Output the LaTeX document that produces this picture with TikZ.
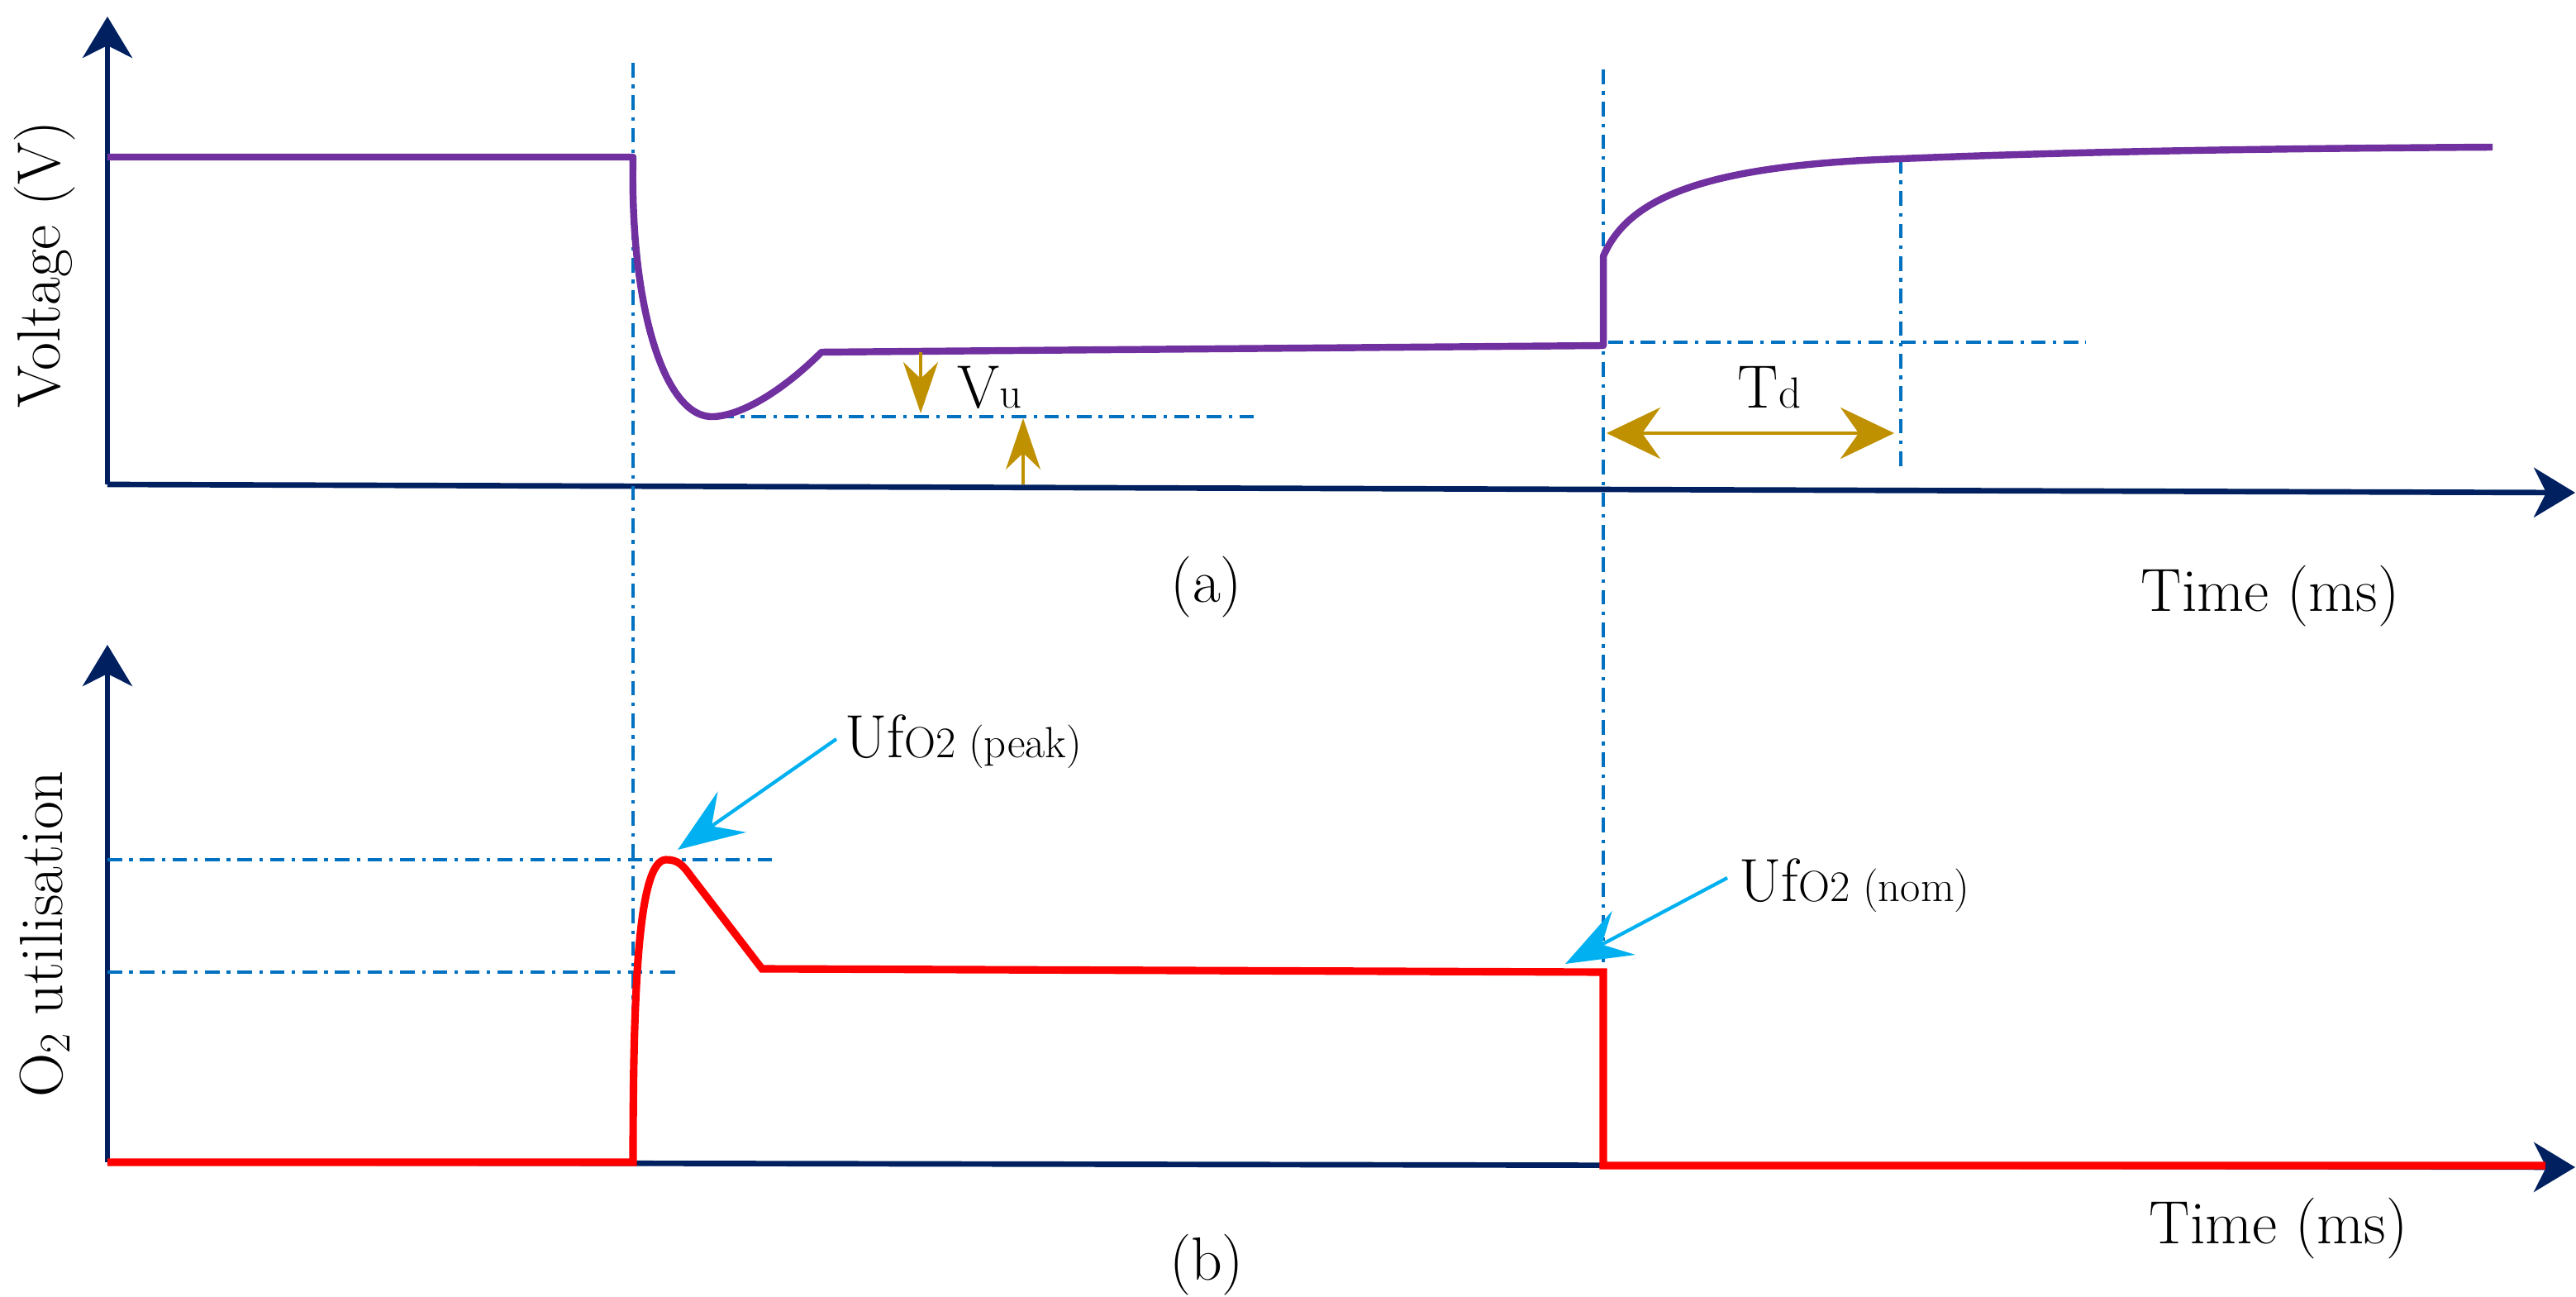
\documentclass[tikz,border=0pt]{standalone}
\usetikzlibrary{arrows.meta}
\definecolor{axisc}{HTML}{002060}
\definecolor{voltc}{HTML}{7030A0}
\definecolor{guidec}{HTML}{0070C0}
\definecolor{goldc}{HTML}{BF9000}
\definecolor{cyanc}{HTML}{00B0F0}
\tikzset{
  axisline/.style={draw=axisc, line width=1.9pt, -{Stealth[length=0.5cm,width=0.6cm,inset=0.15cm]}},
  voltline/.style={draw=voltc, line width=2.4pt, line join=round},
  utilline/.style={draw=red, line width=2.6pt, line join=miter},
  guide/.style={draw=guidec, line width=1pt, dash pattern=on 5pt off 2.5pt on 1.2pt off 2.5pt},
  goldarrow/.style={draw=goldc, line width=1pt, -{Stealth[length=0.62cm,width=0.42cm,inset=0.2cm]}},
  goldtwo/.style={draw=goldc, line width=1.3pt, {Stealth[length=0.65cm,width=0.62cm,inset=0.22cm]}-{Stealth[length=0.65cm,width=0.62cm,inset=0.22cm]}},
  callout/.style={draw=cyanc, line width=1.2pt, -{Stealth[length=0.8cm,width=0.6cm,inset=0.3cm]}},
  lbl/.style={inner sep=0pt, font=\fontsize{21}{25}\selectfont},
}
\newcommand{\smallsz}{\fontsize{15}{17}\selectfont}
\begin{document}
\begin{tikzpicture}[x=0.02cm,y=-0.02cm]
\useasboundingbox (0,0) rectangle (1558.5,784.5);

% ---------- panel (a) ----------
\coordinate (a0) at (65,293);
\coordinate (aytip) at (65,10);
\coordinate (axtip) at (1558,298);
\draw[axisline] (a0) -- (aytip);
\draw[axisline] (a0) -- (axtip);

% guides
\coordinate (g1t) at (383,38);   \coordinate (g1b) at (383,692);
\coordinate (g2t) at (970,42);   \coordinate (g2b) at (970,585);
\coordinate (g3t) at (1150,96);  \coordinate (g3b) at (1150,282);
\coordinate (h1l) at (973,207);  \coordinate (h1r) at (1262,207);
\coordinate (h2l) at (435,252);  \coordinate (h2r) at (763,252);
\draw[guide] (g1t) -- (g1b);
\draw[guide] (g2t) -- (g2b);
\draw[guide] (g3t) -- (g3b);
\draw[guide] (h1l) -- (h1r);
\draw[guide] (h2l) -- (h2r);

% voltage curve
\draw[voltline] (65,95) -- (383,95)
  .. controls (381,185) and (402,254) .. (432,252)
  .. controls (450,251) and (475,235) .. (497,213)
  -- (970,209) -- (970,155)
  .. controls (985,120) and (1030,100) .. (1150,96)
  .. controls (1250,92) and (1350,90) .. (1508,89);

% Vu arrows
\coordinate (vd1) at (557,213); \coordinate (vd2) at (557,250);
\coordinate (vu1) at (619,293); \coordinate (vu2) at (619,253);
\draw[goldarrow] (vd1) -- (vd2);
\draw[goldarrow] (vu1) -- (vu2);
\node[lbl, anchor=base west] (vulab) at (579,247) {V\smallsz u};

% Td arrow
\coordinate (td1) at (972,262); \coordinate (td2) at (1146,262);
\draw[goldtwo] (td1) -- (td2);
\node[lbl, anchor=base west] (tdlab) at (1051,247) {T\smallsz d};

\node[lbl, rotate=90] (ylaba) at (27,160) {Voltage (V)};
\node[lbl, anchor=base west] (xlaba) at (1295,370) {Time (ms)};
\node[lbl] (capa) at (730,355) {(a)};

% ---------- panel (b) ----------
\coordinate (b0) at (65,703);
\coordinate (bytip) at (65,390);
\coordinate (bxtip) at (1558,706);
\draw[axisline] (b0) -- (bytip);
\draw[axisline] (b0) -- (bxtip);

\coordinate (h3l) at (65,520);  \coordinate (h3r) at (467,520);
\coordinate (h4l) at (65,588);  \coordinate (h4r) at (410,588);
\draw[guide] (h3l) -- (h3r);
\draw[guide] (h4l) -- (h4r);

\draw[utilline] (65,703) -- (383,703)
  .. controls (383,600) and (386,520) .. (403,520)
  .. controls (410,520) and (413,523) .. (418,530)
  -- (461,586) -- (970,588) -- (970,705) -- (1540,705);

% callouts
\node[lbl, anchor=base west] (ufpk) at (511,458) {Uf\smallsz O2 (peak)};
\coordinate (pkfrom) at (506,447); \coordinate (pktip) at (410,514);
\draw[callout] (pkfrom) -- (pktip);
\node[lbl, anchor=base west] (ufnom) at (1052,545) {Uf\smallsz O2 (nom)};
\coordinate (nmfrom) at (1045,531); \coordinate (nmtip) at (947,583);
\draw[callout] (nmfrom) -- (nmtip);

\node[lbl, rotate=90] (ylabb) at (27,565) {O\raisebox{-0.12em}{\smallsz 2} utilisation};
\node[lbl, anchor=base west] (xlabb) at (1300,752) {Time (ms)};
\node[lbl] (capb) at (730,765) {(b)};
\end{tikzpicture}
\end{document}
